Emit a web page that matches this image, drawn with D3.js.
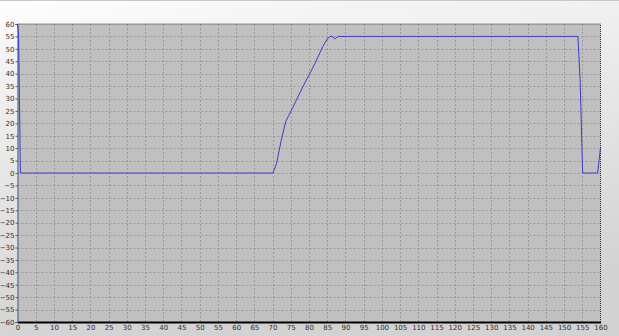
<!DOCTYPE html>
<html>
<head>
<meta charset="utf-8">
<script src="https://cdn.jsdelivr.net/npm/d3@7"></script>
<style>
  body { margin: 0; overflow: hidden; }
  svg { display: block; font-family: Tahoma, "DejaVu Sans", sans-serif; }
</style>
</head>
<body>
<svg width="619" height="336"></svg>
<script>
const X_VALUES = [0, 0.3, 0.8, 70.1, 71.1, 72.4, 73.6, 75.6, 78.3, 81.6, 83.8, 85.2, 86.3, 87, 88, 153.8, 154.4, 155.1, 159.2, 159.6, 160];
const Y_VALUES = [60, 56, 0, 0, 3.9, 13.3, 20.7, 26.5, 34.7, 44, 51, 54.4, 55.2, 54, 55, 55, 37.5, 0, 0, 5, 10];
const X_TICKS = d3.range(0, 161, 5);
const Y_TICKS = d3.range(-60, 61, 5);

const w = 619;
const h = 336;
const m = { top: 24, right: 18.5, bottom: 14, left: 17.5 };

const svg = d3.select('svg');

// outer background, white at top fading to grey
const grad = svg.append('defs').append('linearGradient')
    .attr('id', 'bg')
    .attr('x1', 0).attr('y1', 0).attr('x2', 0.25).attr('y2', 1);
grad.append('stop').attr('offset', '0%').attr('stop-color', '#ffffff');
grad.append('stop').attr('offset', '15%').attr('stop-color', '#f4f4f4');
grad.append('stop').attr('offset', '100%').attr('stop-color', '#d2d2d2');

svg.append('rect')
    .attr('width', w)
    .attr('height', h)
    .attr('fill', 'url(#bg)');
svg.append('line')
    .attr('x1', 0).attr('x2', w).attr('y1', 0.5).attr('y2', 0.5)
    .attr('stroke', '#c8c8c8');

const x = d3.scaleLinear().domain([0, 160]).range([m.left, w - m.right]);
const y = d3.scaleLinear().domain([-60, 60]).range([h - m.bottom, m.top]);

svg.append('rect')
    .attr('x', x(0))
    .attr('y', y(60))
    .attr('width', x(160) - x(0))
    .attr('height', y(-60) - y(60))
    .attr('fill', '#c0c0c0');

// dashed grid
svg.append('g')
    .selectAll('line')
    .data(X_TICKS.slice(1, -1))
    .enter()
    .append('line')
    .attr('x1', d => Math.round(x(d)) + 0.5)
    .attr('x2', d => Math.round(x(d)) + 0.5)
    .attr('y1', y(60))
    .attr('y2', y(-60))
    .attr('stroke', '#999999')
    .attr('stroke-dasharray', '2,2');

svg.append('g')
    .selectAll('line')
    .data(Y_TICKS.slice(0, -1))
    .enter()
    .append('line')
    .attr('x1', x(0))
    .attr('x2', x(160))
    .attr('y1', d => Math.round(y(d)) + 0.5)
    .attr('y2', d => Math.round(y(d)) + 0.5)
    .attr('stroke', '#999999')
    .attr('stroke-dasharray', '2,2');

// top and right border, dotted
svg.append('path')
    .attr('d', `M${x(0)},${y(60)}H${x(160)}V${y(-60)}`)
    .attr('fill', 'none')
    .attr('stroke', '#303030')
    .attr('stroke-dasharray', '1,1');

// axes
const xAxis = d3.axisBottom(x).tickValues(X_TICKS).tickSize(0).tickPadding(3);
const yAxis = d3.axisLeft(y).tickValues(Y_TICKS).tickSize(2).tickPadding(1);

const gx = svg.append('g')
    .attr('transform', `translate(0, ${y(-60)})`)
    .call(xAxis);
gx.select('.domain').attr('stroke', '#000').attr('stroke-width', 2);
gx.selectAll('text').attr('font-size', 7).attr('fill', '#303030').attr('font-family', 'Tahoma, "DejaVu Sans", sans-serif');

const gy = svg.append('g')
    .attr('transform', `translate(${x(0)}, 0)`)
    .call(yAxis);
gy.select('.domain').attr('stroke', '#4a5a8a').attr('stroke-width', 1);
gy.selectAll('.tick line').attr('stroke', '#4a5a8a');
gy.selectAll('text').attr('font-size', 7).attr('fill', '#303030').attr('font-family', 'Tahoma, "DejaVu Sans", sans-serif');

// data line
const line = d3.line()
    .x(d => x(d[0]))
    .y(d => y(d[1]));

svg.append('path')
    .datum(d3.zip(X_VALUES, Y_VALUES))
    .attr('d', line)
    .attr('fill', 'none')
    .attr('stroke', '#3c3cc8')
    .attr('stroke-width', 1);
</script>
</body>
</html>
